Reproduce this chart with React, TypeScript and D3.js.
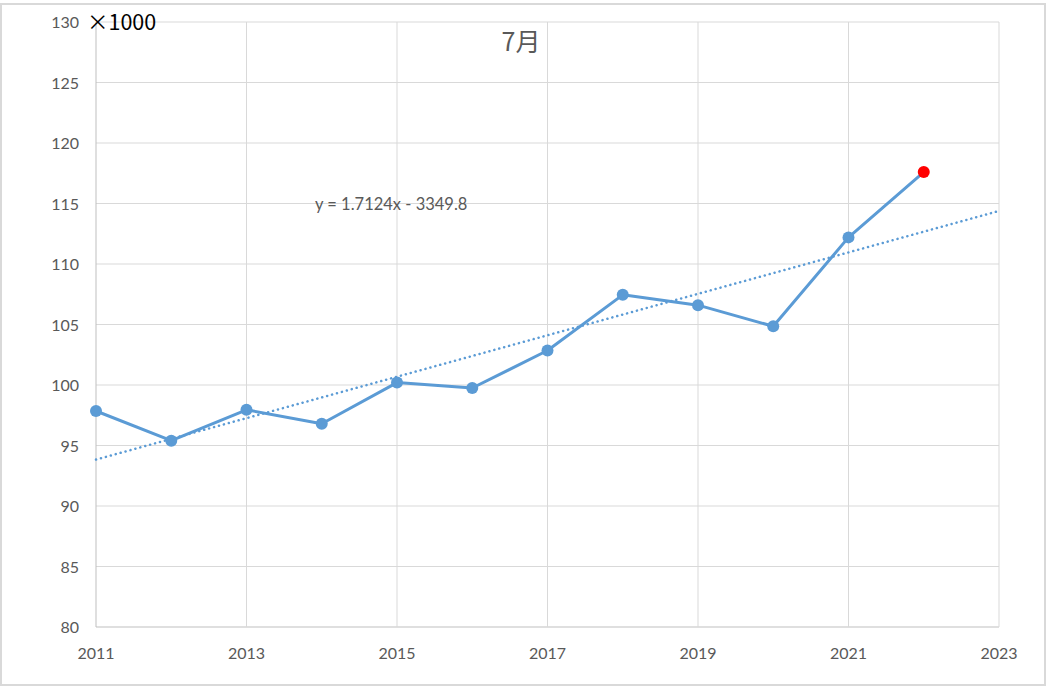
import React, { useEffect, useRef } from "react";
import * as d3 from "d3";

const years = [2011, 2012, 2013, 2014, 2015, 2016, 2017, 2018, 2019, 2020, 2021, 2022];
const values = [97.85, 95.4, 97.95, 96.8, 100.2, 99.75, 102.85, 107.45, 106.6, 104.85, 112.2, 117.6];
const yTicks = [80, 85, 90, 95, 100, 105, 110, 115, 120, 125, 130];
const xTicks = [2011, 2013, 2015, 2017, 2019, 2021, 2023];
const trendSlope = 1.7124;
const trendIntercept = -3349.8;

const W = 1047;
const H = 686;
const font = "Lato, 'Noto Sans', sans-serif";

export default function App() {
  const svgRef = useRef<SVGSVGElement>(null);

  useEffect(() => {
    if (!svgRef.current) return;
    const svg = d3.select(svgRef.current);
    svg.selectAll("*").remove();

    const x = d3.scaleLinear().domain([2011, 2023]).range([96, 999]);
    const y = d3.scaleLinear().domain([80, 130]).range([627, 22]);

    // chart frame
    svg
      .append("rect")
      .attr("x", 1)
      .attr("y", 4)
      .attr("width", 1044)
      .attr("height", 681)
      .attr("fill", "#fff")
      .attr("stroke", "#d9d9d9")
      .attr("stroke-width", 2);

    // gridlines
    svg
      .append("g")
      .selectAll("line")
      .data(yTicks)
      .join("line")
      .attr("x1", x(2011))
      .attr("x2", x(2023))
      .attr("y1", (d) => y(d))
      .attr("y2", (d) => y(d))
      .attr("stroke", (d) => (d === 80 ? "#bfbfbf" : "#d9d9d9"))
      .attr("stroke-width", 1);

    svg
      .append("g")
      .selectAll("line")
      .data(xTicks)
      .join("line")
      .attr("x1", (d) => x(d))
      .attr("x2", (d) => x(d))
      .attr("y1", y(130))
      .attr("y2", y(80))
      .attr("stroke", (d) => (d === 2011 ? "#bfbfbf" : "#d9d9d9"))
      .attr("stroke-width", 1);

    // tick labels
    svg
      .append("g")
      .selectAll("text")
      .data(yTicks)
      .join("text")
      .attr("x", 79)
      .attr("y", (d) => y(d) + 6)
      .attr("text-anchor", "end")
      .attr("font-family", font)
      .attr("font-size", 16)
      .attr("fill", "#595959")
      .text((d) => d);

    svg
      .append("g")
      .selectAll("text")
      .data(xTicks)
      .join("text")
      .attr("x", (d) => x(d))
      .attr("y", 659)
      .attr("text-anchor", "middle")
      .attr("font-family", font)
      .attr("font-size", 16)
      .attr("fill", "#595959")
      .text((d) => d);

    // trendline
    svg
      .append("line")
      .attr("x1", x(2011))
      .attr("x2", x(2023))
      .attr("y1", y(trendSlope * 2011 + trendIntercept))
      .attr("y2", y(trendSlope * 2023 + trendIntercept))
      .attr("stroke", "#5b9bd5")
      .attr("stroke-width", 2.5)
      .attr("stroke-dasharray", "0.1 5")
      .attr("stroke-linecap", "round");

    // series line
    const line = d3
      .line<number>()
      .x((_, i) => x(years[i]))
      .y((d) => y(d));

    svg
      .append("path")
      .attr("d", line(values))
      .attr("fill", "none")
      .attr("stroke", "#5b9bd5")
      .attr("stroke-width", 3)
      .attr("stroke-linejoin", "round");

    svg
      .append("g")
      .selectAll("circle")
      .data(values)
      .join("circle")
      .attr("cx", (_, i) => x(years[i]))
      .attr("cy", (d) => y(d))
      .attr("r", 6)
      .attr("fill", (_, i) => (i === values.length - 1 ? "#ff0000" : "#5b9bd5"));

    // equation label
    svg
      .append("text")
      .attr("x", 315)
      .attr("y", 210)
      .attr("font-family", font)
      .attr("font-size", 16.5)
      .attr("fill", "#595959")
      .text(`y = ${trendSlope}x - ${-trendIntercept}`);

    // title
    svg
      .append("text")
      .attr("x", 521)
      .attr("y", 51)
      .attr("text-anchor", "middle")
      .attr("font-family", "'Noto Sans CJK JP', sans-serif")
      .attr("font-size", 25)
      .attr("fill", "#595959")
      .text("7月");

    // unit label
    svg
      .append("text")
      .attr("x", 87)
      .attr("y", 30)
      .attr("font-family", "'Noto Sans CJK JP', sans-serif")
      .attr("font-size", 21.5)
      .attr("fill", "#000")
      .text("×1000");
  }, []);

  return (
    <svg
      ref={svgRef}
      width={W}
      height={H}
      style={{ position: "fixed", left: 0, top: 0, display: "block" }}
    />
  );
}
